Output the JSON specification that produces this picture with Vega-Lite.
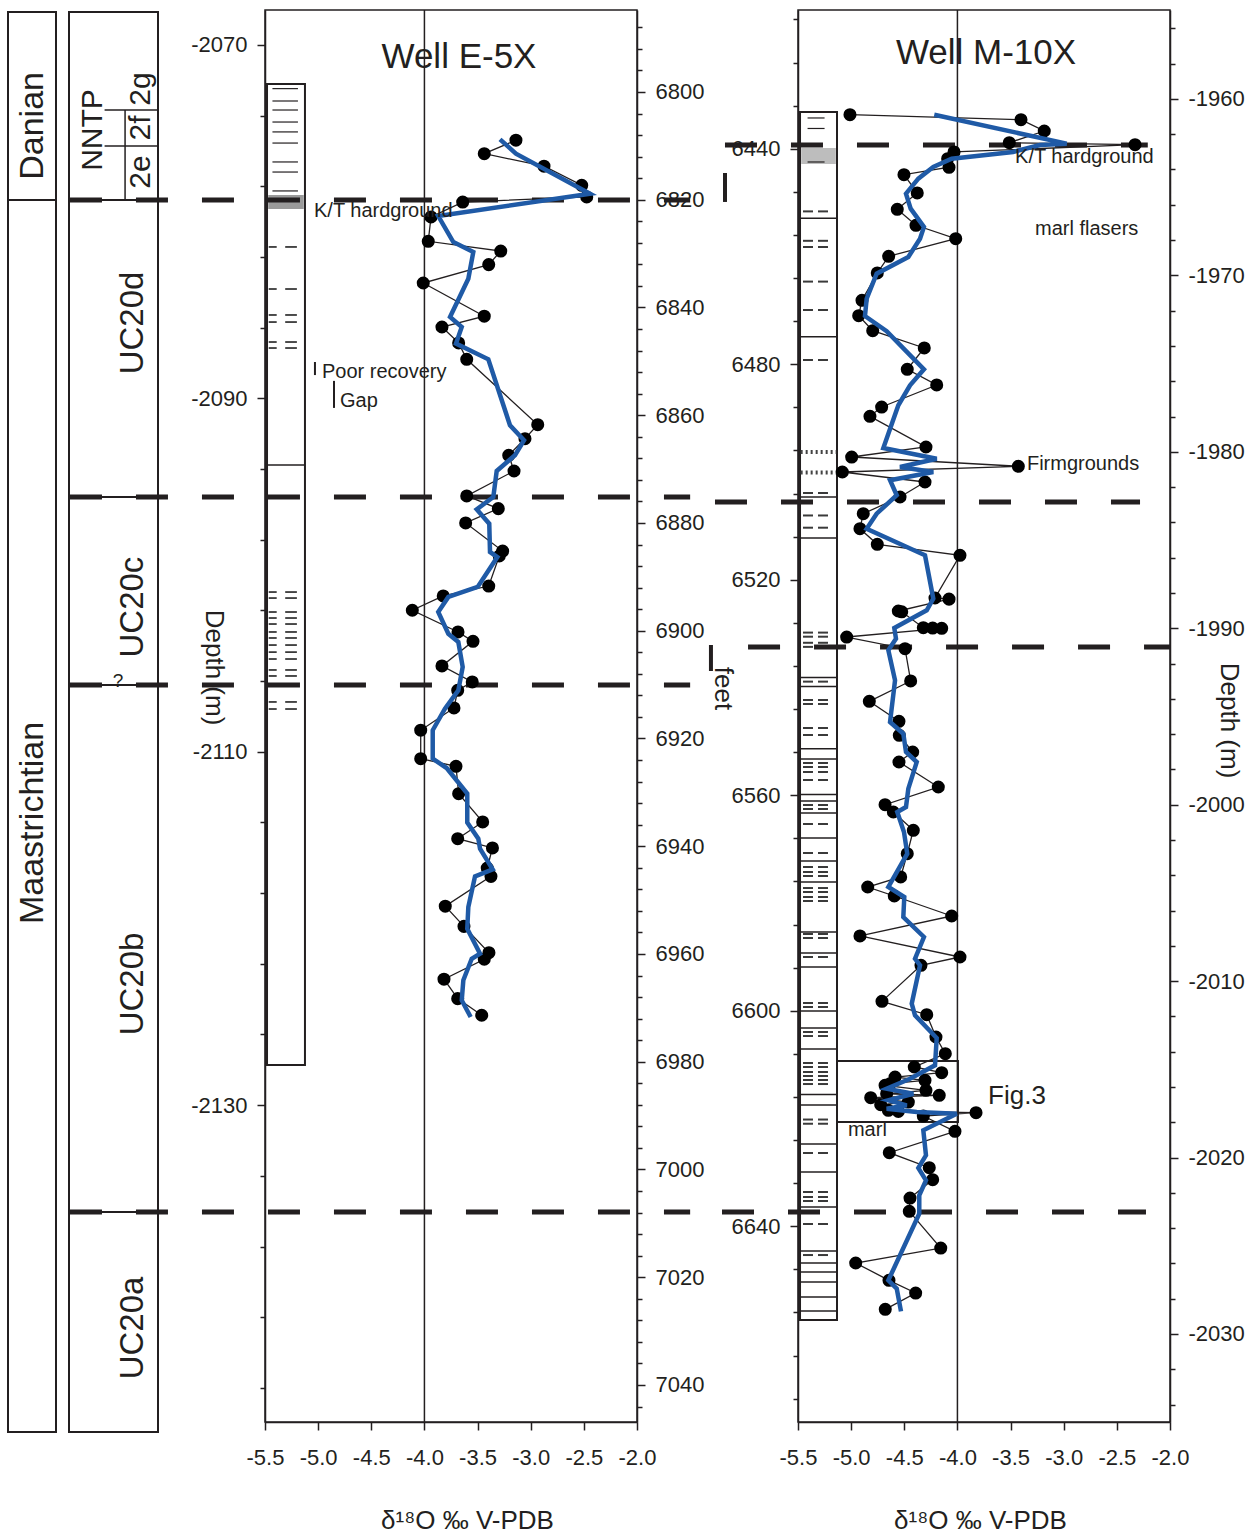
{
  "$schema": "https://vega.github.io/schema/vega-lite/v6.json",
  "background": "white",
  "padding": {"left": 7, "top": 7, "right": 0, "bottom": 0},
  "spacing": 0,
  "bounds": "flush",
  "config": {
    "view": {"stroke": null},
    "axis": {
      "labelFont": "Liberation Sans", "labelFontSize": 22, "labelColor": "#231f20",
      "titleFont": "Liberation Sans", "titleFontSize": 26, "titleFontWeight": "normal", "titleColor": "#231f20",
      "tickColor": "#231f20", "domainColor": "#231f20", "tickWidth": 1.5, "domainWidth": 1.5,
      "grid": false, "labelFlush": false, "labelOverlap": false, "labelBound": false, "labelPadding": 10
    }
  },
  "datasets": {
    "stages": [
      {"stage": "Danian", "top": -2068.13, "base": -2078.77, "label_depth": -2074.58},
      {"stage": "Maastrichtian", "top": -2078.77, "base": -2148.5, "label_depth": -2114.03}
    ],
    "zones": [
      {"zone": "NNTP", "top": -2068.13, "base": -2078.77, "label_depth": -2074.81},
      {"zone": "UC20d", "top": -2078.77, "base": -2095.58, "label_depth": -2085.73},
      {"zone": "UC20c", "top": -2095.58, "base": -2106.22, "label_depth": -2101.81},
      {"zone": "UC20b", "top": -2106.22, "base": -2136.04, "label_depth": -2123.14},
      {"zone": "UC20a", "top": -2136.04, "base": -2148.5, "label_depth": -2142.61}
    ],
    "subzones": [
      {"zone": "2g", "top": -2068.13, "base": -2073.68, "label_depth": -2072.49},
      {"zone": "2f", "top": -2073.68, "base": -2075.72, "label_depth": -2074.7},
      {"zone": "2e", "top": -2075.72, "base": -2078.77, "label_depth": -2077.19}
    ],
    "uncertain": [{"depth": -2106.0, "note": "?"}],
    "wells": [
      {"well": "Well E-5X", "d18O": -3.675, "depth": -2071.3},
      {"well": "Well M-10X", "d18O": -3.731, "depth_ft": 6424.27}
    ],
    "e5x_horizons": [
      {"horizon": "K/T boundary", "depth": -2078.77},
      {"horizon": "UC20d/UC20c", "depth": -2095.58},
      {"horizon": "UC20c/UC20b", "depth": -2106.22},
      {"horizon": "UC20b/UC20a", "depth": -2136.04}
    ],
    "e5x_column": [{"top": -2072.21, "base": -2127.72}],
    "e5x_hardground": [{"top": -2078.49, "base": -2079.28}],
    "e5x_beds": [{"depth": -2093.77}],
    "e5x_laminae": [
      {"depth": -2072.47}, {"depth": -2073.17}, {"depth": -2073.68}, {"depth": -2074.36}, {"depth": -2074.92},
      {"depth": -2075.55}, {"depth": -2076.62}, {"depth": -2077.19}, {"depth": -2078.26}
    ],
    "e5x_marl": [
      {"depth": -2081.43}, {"depth": -2083.81}, {"depth": -2085.28}, {"depth": -2085.68}, {"depth": -2086.81},
      {"depth": -2087.15}, {"depth": -2100.96}, {"depth": -2101.3}, {"depth": -2102.09}, {"depth": -2102.43},
      {"depth": -2102.77}, {"depth": -2103.22}, {"depth": -2103.56}, {"depth": -2103.96}, {"depth": -2104.36},
      {"depth": -2104.75}, {"depth": -2105.37}, {"depth": -2105.71}, {"depth": -2107.18}, {"depth": -2107.58}
    ],
    "e5x_d18O": [
      {"depth": -2075.39, "d18O": -3.139}, {"depth": -2076.15, "d18O": -3.437}, {"depth": -2076.86, "d18O": -2.875},
      {"depth": -2077.94, "d18O": -2.52}, {"depth": -2078.6, "d18O": -2.473}, {"depth": -2078.89, "d18O": -3.64},
      {"depth": -2079.73, "d18O": -3.938}, {"depth": -2081.11, "d18O": -3.964}, {"depth": -2081.66, "d18O": -3.282},
      {"depth": -2082.43, "d18O": -3.395}, {"depth": -2083.47, "d18O": -4.011}, {"depth": -2085.35, "d18O": -3.437},
      {"depth": -2085.96, "d18O": -3.835}, {"depth": -2086.86, "d18O": -3.678}, {"depth": -2087.79, "d18O": -3.602},
      {"depth": -2091.49, "d18O": -2.934}, {"depth": -2092.28, "d18O": -3.054}, {"depth": -2093.22, "d18O": -3.207},
      {"depth": -2094.11, "d18O": -3.157}, {"depth": -2095.52, "d18O": -3.602}, {"depth": -2096.24, "d18O": -3.305},
      {"depth": -2097.05, "d18O": -3.612}, {"depth": -2098.64, "d18O": -3.264}, {"depth": -2098.92, "d18O": -3.296},
      {"depth": -2100.62, "d18O": -3.395}, {"depth": -2101.18, "d18O": -3.823}, {"depth": -2101.99, "d18O": -4.114},
      {"depth": -2103.22, "d18O": -3.684}, {"depth": -2103.75, "d18O": -3.543}, {"depth": -2105.14, "d18O": -3.835},
      {"depth": -2106.05, "d18O": -3.55}, {"depth": -2106.52, "d18O": -3.687}, {"depth": -2107.52, "d18O": -3.722},
      {"depth": -2108.78, "d18O": -4.035}, {"depth": -2110.39, "d18O": -4.035}, {"depth": -2110.82, "d18O": -3.703},
      {"depth": -2112.37, "d18O": -3.678}, {"depth": -2113.97, "d18O": -3.452}, {"depth": -2114.92, "d18O": -3.687},
      {"depth": -2115.44, "d18O": -3.36}, {"depth": -2116.58, "d18O": -3.409}, {"depth": -2117.05, "d18O": -3.374},
      {"depth": -2118.74, "d18O": -3.804}, {"depth": -2119.88, "d18O": -3.628}, {"depth": -2121.37, "d18O": -3.393},
      {"depth": -2121.74, "d18O": -3.437}, {"depth": -2122.87, "d18O": -3.816}, {"depth": -2123.97, "d18O": -3.687},
      {"depth": -2124.91, "d18O": -3.461}
    ],
    "e5x_running_mean": [
      {"depth": -2075.34, "d18O": -3.289}, {"depth": -2076.15, "d18O": -3.139}, {"depth": -2078.42, "d18O": -2.442},
      {"depth": -2079.68, "d18O": -3.87}, {"depth": -2081.15, "d18O": -3.728}, {"depth": -2081.71, "d18O": -3.54},
      {"depth": -2083.23, "d18O": -3.587}, {"depth": -2085.39, "d18O": -3.759}, {"depth": -2085.96, "d18O": -3.649},
      {"depth": -2086.9, "d18O": -3.703}, {"depth": -2087.79, "d18O": -3.399}, {"depth": -2091.52, "d18O": -3.195},
      {"depth": -2092.37, "d18O": -3.063}, {"depth": -2093.22, "d18O": -3.148}, {"depth": -2094.11, "d18O": -3.32},
      {"depth": -2095.58, "d18O": -3.352}, {"depth": -2096.28, "d18O": -3.508}, {"depth": -2097.09, "d18O": -3.39},
      {"depth": -2098.69, "d18O": -3.383}, {"depth": -2098.98, "d18O": -3.314}, {"depth": -2100.67, "d18O": -3.499},
      {"depth": -2101.24, "d18O": -3.775}, {"depth": -2102.09, "d18O": -3.87}, {"depth": -2103.32, "d18O": -3.775},
      {"depth": -2103.79, "d18O": -3.681}, {"depth": -2105.2, "d18O": -3.64}, {"depth": -2106.52, "d18O": -3.681},
      {"depth": -2107.56, "d18O": -3.807}, {"depth": -2108.78, "d18O": -3.922}, {"depth": -2110.39, "d18O": -3.922},
      {"depth": -2110.92, "d18O": -3.791}, {"depth": -2112.37, "d18O": -3.597}, {"depth": -2114.01, "d18O": -3.597},
      {"depth": -2114.92, "d18O": -3.493}, {"depth": -2115.48, "d18O": -3.477}, {"depth": -2116.65, "d18O": -3.358},
      {"depth": -2117.05, "d18O": -3.524}, {"depth": -2118.78, "d18O": -3.587}, {"depth": -2120.01, "d18O": -3.597},
      {"depth": -2121.43, "d18O": -3.477}, {"depth": -2121.71, "d18O": -3.555}, {"depth": -2122.93, "d18O": -3.634},
      {"depth": -2124.06, "d18O": -3.649}, {"depth": -2125.01, "d18O": -3.565}
    ],
    "m10x_horizons": [
      {"horizon": "K/T boundary", "depth_ft": 6439.3},
      {"horizon": "UC20d/UC20c", "depth_ft": 6505.57},
      {"horizon": "UC20c/UC20b", "depth_ft": 6532.48},
      {"horizon": "UC20b/UC20a", "depth_ft": 6637.35}
    ],
    "m10x_column": [{"top": 6433.18, "base": 6657.4}],
    "m10x_hardground": [{"top": 6439.86, "base": 6442.83}],
    "m10x_laminae": [{"depth_ft": 6434.29}, {"depth_ft": 6436.24}, {"depth_ft": 6442.46}],
    "m10x_firmgrounds": [{"depth_ft": 6496.29}, {"depth_ft": 6500.11}],
    "m10x_beds": [
      {"depth_ft": 6452.91}, {"depth_ft": 6474.89}, {"depth_ft": 6504.64}, {"depth_ft": 6512.25}, {"depth_ft": 6538.14},
      {"depth_ft": 6539.81}, {"depth_ft": 6551.36}, {"depth_ft": 6553.27}, {"depth_ft": 6559.86}, {"depth_ft": 6561.07},
      {"depth_ft": 6563.29}, {"depth_ft": 6567.94}, {"depth_ft": 6572.2}, {"depth_ft": 6576.1}, {"depth_ft": 6585.38},
      {"depth_ft": 6589.28}, {"depth_ft": 6591.88}, {"depth_ft": 6600.05}, {"depth_ft": 6603.2}, {"depth_ft": 6607.1},
      {"depth_ft": 6615.55}, {"depth_ft": 6617.49}, {"depth_ft": 6624.73}, {"depth_ft": 6629.93}, {"depth_ft": 6636.43},
      {"depth_ft": 6644.59}, {"depth_ft": 6646.82}, {"depth_ft": 6648.49}, {"depth_ft": 6650.35}, {"depth_ft": 6653.13},
      {"depth_ft": 6655.73}
    ],
    "m10x_marl": [
      {"depth_ft": 6451.63}, {"depth_ft": 6457.09}, {"depth_ft": 6458.24}, {"depth_ft": 6464.66}, {"depth_ft": 6469.93},
      {"depth_ft": 6479.21}, {"depth_ft": 6503.9}, {"depth_ft": 6508.07}, {"depth_ft": 6510.34}, {"depth_ft": 6529.81},
      {"depth_ft": 6530.57}, {"depth_ft": 6531.7}, {"depth_ft": 6532.46}, {"depth_ft": 6538.91}, {"depth_ft": 6542.32},
      {"depth_ft": 6543.06}, {"depth_ft": 6547.52}, {"depth_ft": 6548.82}, {"depth_ft": 6554.01}, {"depth_ft": 6554.76},
      {"depth_ft": 6555.68}, {"depth_ft": 6557.17}, {"depth_ft": 6561.81}, {"depth_ft": 6562.55}, {"depth_ft": 6565.34},
      {"depth_ft": 6570.72}, {"depth_ft": 6573.32}, {"depth_ft": 6574.25}, {"depth_ft": 6574.99}, {"depth_ft": 6577.22},
      {"depth_ft": 6577.96}, {"depth_ft": 6578.89}, {"depth_ft": 6579.63}, {"depth_ft": 6585.75}, {"depth_ft": 6586.5},
      {"depth_ft": 6590.02}, {"depth_ft": 6598.56}, {"depth_ft": 6599.3}, {"depth_ft": 6603.94}, {"depth_ft": 6604.69},
      {"depth_ft": 6609.7}, {"depth_ft": 6610.44}, {"depth_ft": 6611.37}, {"depth_ft": 6612.11}, {"depth_ft": 6612.85},
      {"depth_ft": 6613.6}, {"depth_ft": 6620.19}, {"depth_ft": 6620.97}, {"depth_ft": 6626.4}, {"depth_ft": 6633.64},
      {"depth_ft": 6634.57}, {"depth_ft": 6635.31}, {"depth_ft": 6639.58}, {"depth_ft": 6645.34}
    ],
    "m10x_d18O": [
      {"depth_ft": 6433.68, "d18O": -5.011}, {"depth_ft": 6434.61, "d18O": -3.402}, {"depth_ft": 6436.71, "d18O": -3.183},
      {"depth_ft": 6438.88, "d18O": -3.512}, {"depth_ft": 6439.25, "d18O": -2.329}, {"depth_ft": 6440.6, "d18O": -4.032},
      {"depth_ft": 6441.85, "d18O": -4.092}, {"depth_ft": 6443.44, "d18O": -4.079}, {"depth_ft": 6444.82, "d18O": -4.503},
      {"depth_ft": 6448.21, "d18O": -4.378}, {"depth_ft": 6451.24, "d18O": -4.566}, {"depth_ft": 6454.21, "d18O": -4.39},
      {"depth_ft": 6456.7, "d18O": -4.016}, {"depth_ft": 6459.96, "d18O": -4.647}, {"depth_ft": 6463.06, "d18O": -4.754},
      {"depth_ft": 6468.13, "d18O": -4.898}, {"depth_ft": 6470.99, "d18O": -4.929}, {"depth_ft": 6473.77, "d18O": -4.797},
      {"depth_ft": 6476.98, "d18O": -4.312}, {"depth_ft": 6480.94, "d18O": -4.472}, {"depth_ft": 6483.85, "d18O": -4.195},
      {"depth_ft": 6487.94, "d18O": -4.713}, {"depth_ft": 6489.66, "d18O": -4.823}, {"depth_ft": 6495.36, "d18O": -4.296},
      {"depth_ft": 6497.22, "d18O": -4.995}, {"depth_ft": 6498.94, "d18O": -3.427}, {"depth_ft": 6500.0, "d18O": -5.083},
      {"depth_ft": 6501.86, "d18O": -4.305}, {"depth_ft": 6504.64, "d18O": -4.54}, {"depth_ft": 6507.74, "d18O": -4.886},
      {"depth_ft": 6510.53, "d18O": -4.917}, {"depth_ft": 6513.42, "d18O": -4.754}, {"depth_ft": 6515.46, "d18O": -3.976},
      {"depth_ft": 6523.39, "d18O": -4.211}, {"depth_ft": 6523.6, "d18O": -4.079}, {"depth_ft": 6525.8, "d18O": -4.556},
      {"depth_ft": 6525.95, "d18O": -4.524}, {"depth_ft": 6528.9, "d18O": -4.321}, {"depth_ft": 6528.96, "d18O": -4.233},
      {"depth_ft": 6529.02, "d18O": -4.148}, {"depth_ft": 6530.63, "d18O": -5.042}, {"depth_ft": 6532.8, "d18O": -4.493},
      {"depth_ft": 6538.79, "d18O": -4.44}, {"depth_ft": 6542.56, "d18O": -4.829}, {"depth_ft": 6546.27, "d18O": -4.55},
      {"depth_ft": 6548.87, "d18O": -4.547}, {"depth_ft": 6551.97, "d18O": -4.421}, {"depth_ft": 6553.83, "d18O": -4.55},
      {"depth_ft": 6558.47, "d18O": -4.18}, {"depth_ft": 6561.75, "d18O": -4.681}, {"depth_ft": 6563.11, "d18O": -4.603},
      {"depth_ft": 6566.5, "d18O": -4.415}, {"depth_ft": 6570.85, "d18O": -4.472}, {"depth_ft": 6575.17, "d18O": -4.534},
      {"depth_ft": 6577.03, "d18O": -4.844}, {"depth_ft": 6578.7, "d18O": -4.594}, {"depth_ft": 6582.41, "d18O": -4.054},
      {"depth_ft": 6586.12, "d18O": -4.917}, {"depth_ft": 6590.02, "d18O": -3.976}, {"depth_ft": 6591.56, "d18O": -4.343},
      {"depth_ft": 6598.25, "d18O": -4.71}, {"depth_ft": 6600.73, "d18O": -4.289}, {"depth_ft": 6604.87, "d18O": -4.202},
      {"depth_ft": 6607.97, "d18O": -4.114}, {"depth_ft": 6610.44, "d18O": -4.406}, {"depth_ft": 6611.5, "d18O": -4.148},
      {"depth_ft": 6612.3, "d18O": -4.587}, {"depth_ft": 6612.91, "d18O": -4.305}, {"depth_ft": 6613.54, "d18O": -4.634},
      {"depth_ft": 6613.84, "d18O": -4.681}, {"depth_ft": 6614.77, "d18O": -4.296}, {"depth_ft": 6615.4, "d18O": -4.666},
      {"depth_ft": 6615.69, "d18O": -4.171}, {"depth_ft": 6616.14, "d18O": -4.816}, {"depth_ft": 6616.94, "d18O": -4.462},
      {"depth_ft": 6617.44, "d18O": -4.722}, {"depth_ft": 6618.48, "d18O": -4.65}, {"depth_ft": 6618.7, "d18O": -4.556},
      {"depth_ft": 6618.92, "d18O": -3.825}, {"depth_ft": 6619.54, "d18O": -4.321}, {"depth_ft": 6622.38, "d18O": -4.023},
      {"depth_ft": 6626.35, "d18O": -4.641}, {"depth_ft": 6629.13, "d18O": -4.265}, {"depth_ft": 6631.36, "d18O": -4.233},
      {"depth_ft": 6634.76, "d18O": -4.446}, {"depth_ft": 6637.23, "d18O": -4.453}, {"depth_ft": 6644.04, "d18O": -4.157},
      {"depth_ft": 6646.82, "d18O": -4.957}, {"depth_ft": 6650.03, "d18O": -4.644}, {"depth_ft": 6652.39, "d18O": -4.393},
      {"depth_ft": 6655.42, "d18O": -4.679}
    ],
    "m10x_running_mean": [
      {"depth_ft": 6433.68, "d18O": -4.218}, {"depth_ft": 6439.06, "d18O": -2.972}, {"depth_ft": 6439.3, "d18O": -3.223},
      {"depth_ft": 6440.6, "d18O": -3.477}, {"depth_ft": 6441.85, "d18O": -4.054}, {"depth_ft": 6443.39, "d18O": -4.227},
      {"depth_ft": 6445.56, "d18O": -4.368}, {"depth_ft": 6448.34, "d18O": -4.484}, {"depth_ft": 6451.13, "d18O": -4.44},
      {"depth_ft": 6454.52, "d18O": -4.315}, {"depth_ft": 6456.7, "d18O": -4.352}, {"depth_ft": 6460.09, "d18O": -4.462},
      {"depth_ft": 6463.19, "d18O": -4.76}, {"depth_ft": 6467.83, "d18O": -4.854}, {"depth_ft": 6471.04, "d18O": -4.87},
      {"depth_ft": 6473.88, "d18O": -4.666}, {"depth_ft": 6480.94, "d18O": -4.315}, {"depth_ft": 6483.91, "d18O": -4.446},
      {"depth_ft": 6487.62, "d18O": -4.556}, {"depth_ft": 6495.55, "d18O": -4.697}, {"depth_ft": 6497.53, "d18O": -4.195},
      {"depth_ft": 6499.07, "d18O": -4.54}, {"depth_ft": 6500.0, "d18O": -4.227}, {"depth_ft": 6501.54, "d18O": -4.634},
      {"depth_ft": 6504.32, "d18O": -4.571}, {"depth_ft": 6507.74, "d18O": -4.76}, {"depth_ft": 6510.53, "d18O": -4.854},
      {"depth_ft": 6515.46, "d18O": -4.305}, {"depth_ft": 6523.52, "d18O": -4.227}, {"depth_ft": 6525.67, "d18O": -4.289},
      {"depth_ft": 6528.96, "d18O": -4.594}, {"depth_ft": 6530.94, "d18O": -4.578}, {"depth_ft": 6533.09, "d18O": -4.65},
      {"depth_ft": 6538.66, "d18O": -4.587}, {"depth_ft": 6546.4, "d18O": -4.634}, {"depth_ft": 6548.58, "d18O": -4.509},
      {"depth_ft": 6551.97, "d18O": -4.484}, {"depth_ft": 6553.83, "d18O": -4.383}, {"depth_ft": 6558.78, "d18O": -4.462},
      {"depth_ft": 6562.18, "d18O": -4.484}, {"depth_ft": 6563.11, "d18O": -4.566}, {"depth_ft": 6566.82, "d18O": -4.503},
      {"depth_ft": 6570.85, "d18O": -4.472}, {"depth_ft": 6577.03, "d18O": -4.65}, {"depth_ft": 6578.89, "d18O": -4.5},
      {"depth_ft": 6582.6, "d18O": -4.509}, {"depth_ft": 6586.31, "d18O": -4.315}, {"depth_ft": 6590.34, "d18O": -4.399},
      {"depth_ft": 6591.56, "d18O": -4.352}, {"depth_ft": 6598.69, "d18O": -4.43}, {"depth_ft": 6600.84, "d18O": -4.399},
      {"depth_ft": 6605.06, "d18O": -4.195}, {"depth_ft": 6610.13, "d18O": -4.211}, {"depth_ft": 6612.61, "d18O": -4.446},
      {"depth_ft": 6614.47, "d18O": -4.666}, {"depth_ft": 6615.4, "d18O": -4.415}, {"depth_ft": 6616.62, "d18O": -4.65},
      {"depth_ft": 6617.55, "d18O": -4.477}, {"depth_ft": 6618.18, "d18O": -4.666}, {"depth_ft": 6618.79, "d18O": -4.383},
      {"depth_ft": 6619.11, "d18O": -4.007}, {"depth_ft": 6622.19, "d18O": -4.321}, {"depth_ft": 6626.83, "d18O": -4.296},
      {"depth_ft": 6629.19, "d18O": -4.368}, {"depth_ft": 6631.47, "d18O": -4.296}, {"depth_ft": 6634.25, "d18O": -4.359},
      {"depth_ft": 6637.67, "d18O": -4.359}, {"depth_ft": 6650.03, "d18O": -4.65}, {"depth_ft": 6651.59, "d18O": -4.571},
      {"depth_ft": 6655.79, "d18O": -4.531}
    ]
  },
  "resolve": {"scale": {"x": "independent", "y": "independent"}},
  "hconcat": [
    {
      "width": 48, "height": 1412,
      "data": {"name": "stages"},
      "layer": [
        {
          "mark": {"type": "rect", "fill": "white", "stroke": "#231f20", "strokeWidth": 2, "clip": false},
          "encoding": {
            "x": {"datum": 0, "type": "quantitative", "scale": {"domain": [0, 1], "nice": false, "zero": false}, "axis": null},
            "x2": {"datum": 1},
            "y": {"field": "top", "type": "quantitative", "scale": {"domain": [-2147.93, -2068.02], "nice": false, "zero": false}, "axis": null},
            "y2": {"field": "base"}
          }
        },
        {
          "mark": {"type": "text", "angle": 270, "fontSize": 34, "font": "Liberation Sans", "color": "#231f20", "align": "center", "baseline": "middle"},
          "encoding": {
            "x": {"datum": 0.52, "type": "quantitative"},
            "y": {"field": "label_depth", "type": "quantitative"},
            "text": {"field": "stage"}
          }
        }
      ]
    },
    {"width": 13, "height": 1412, "data": {"values": []}, "mark": "point", "encoding": {}},
    {
      "width": 89, "height": 1412,
      "layer": [
        {
          "data": {"name": "zones"},
          "mark": {"type": "rect", "fill": "white", "stroke": "#231f20", "strokeWidth": 2, "clip": false},
          "encoding": {
            "x": {"datum": 0, "type": "quantitative", "scale": {"domain": [0, 1], "nice": false, "zero": false}, "axis": null},
            "x2": {"datum": 1},
            "y": {"field": "top", "type": "quantitative", "scale": {"domain": [-2147.93, -2068.02], "nice": false, "zero": false}, "axis": null},
            "y2": {"field": "base"}
          }
        },
        {
          "data": {"name": "zones"},
          "transform": [{"filter": "datum.zone !== 'NNTP'"}],
          "mark": {"type": "text", "angle": 270, "fontSize": 33, "font": "Liberation Sans", "color": "#231f20", "align": "center", "baseline": "middle"},
          "encoding": {
            "x": {"datum": 0.72, "type": "quantitative"},
            "y": {"field": "label_depth", "type": "quantitative"},
            "text": {"field": "zone"}
          }
        },
        {
          "data": {"name": "zones"},
          "transform": [{"filter": "datum.zone === 'NNTP'"}],
          "mark": {"type": "text", "angle": 270, "fontSize": 30, "font": "Liberation Sans", "color": "#231f20", "align": "center", "baseline": "middle"},
          "encoding": {
            "x": {"datum": 0.27, "type": "quantitative"},
            "y": {"field": "label_depth", "type": "quantitative"},
            "text": {"field": "zone"}
          }
        },
        {
          "data": {"name": "subzones"},
          "transform": [{"filter": "datum.zone !== '2e'"}],
          "mark": {"type": "rule", "color": "#231f20", "strokeWidth": 1.5},
          "encoding": {
            "x": {"datum": 0.4, "type": "quantitative"},
            "x2": {"datum": 1},
            "y": {"field": "base", "type": "quantitative"}
          }
        },
        {
          "data": {"name": "subzones"},
          "transform": [{"filter": "datum.zone !== '2g'"}],
          "mark": {"type": "rule", "color": "#231f20", "strokeWidth": 1.5},
          "encoding": {
            "x": {"datum": 0.63, "type": "quantitative"},
            "y": {"field": "top", "type": "quantitative"},
            "y2": {"field": "base"}
          }
        },
        {
          "data": {"name": "subzones"},
          "mark": {"type": "text", "angle": 270, "fontSize": 30, "font": "Liberation Sans", "color": "#231f20", "align": "center", "baseline": "middle"},
          "encoding": {
            "x": {"datum": 0.81, "type": "quantitative"},
            "y": {"field": "label_depth", "type": "quantitative"},
            "text": {"field": "zone"}
          }
        },
        {
          "data": {"name": "uncertain"},
          "mark": {"type": "text", "fontSize": 19, "font": "Liberation Sans", "color": "#231f20", "align": "center", "baseline": "middle"},
          "encoding": {
            "x": {"datum": 0.55, "type": "quantitative"},
            "y": {"field": "depth", "type": "quantitative"},
            "text": {"field": "note"}
          }
        }
      ]
    },
    {"width": 107, "height": 1412, "data": {"values": []}, "mark": "point", "encoding": {}},
    {
      "width": 372, "height": 1412,
      "view": {"stroke": "#231f20", "strokeWidth": 1.5},
      "layer": [
        {
          "layer": [
            {
              "data": {"name": "e5x_column"},
              "mark": {"type": "rect", "fill": "white", "stroke": "#231f20", "strokeWidth": 2},
              "encoding": {
                "x": {"datum": -5.481, "type": "quantitative"},
                "x2": {"datum": -5.124},
                "y": {"field": "top", "type": "quantitative"},
                "y2": {"field": "base"}
              }
            },
            {
              "data": {"name": "e5x_hardground"},
              "mark": {"type": "rect", "fill": "#9a9a9a"},
              "encoding": {
                "x": {"datum": -5.47, "type": "quantitative"},
                "x2": {"datum": -5.135},
                "y": {"field": "top", "type": "quantitative"},
                "y2": {"field": "base"}
              }
            },
            {
              "data": {"name": "e5x_laminae"},
              "mark": {"type": "rule", "color": "#231f20", "strokeWidth": 1.2},
              "encoding": {
                "x": {"datum": -5.43, "type": "quantitative"},
                "x2": {"datum": -5.19},
                "y": {"field": "depth", "type": "quantitative"}
              }
            },
            {
              "data": {"name": "e5x_marl"},
              "mark": {"type": "rule", "color": "#3a3a3a", "strokeWidth": 1.8},
              "encoding": {
                "x": {"datum": -5.465, "type": "quantitative"},
                "x2": {"datum": -5.39},
                "y": {"field": "depth", "type": "quantitative"}
              }
            },
            {
              "data": {"name": "e5x_marl"},
              "mark": {"type": "rule", "color": "#3a3a3a", "strokeWidth": 1.8},
              "encoding": {
                "x": {"datum": -5.31, "type": "quantitative"},
                "x2": {"datum": -5.2},
                "y": {"field": "depth", "type": "quantitative"}
              }
            },
            {
              "data": {"name": "e5x_beds"},
              "mark": {"type": "rule", "color": "#231f20", "strokeWidth": 1.5},
              "encoding": {
                "x": {"datum": -5.481, "type": "quantitative"},
                "x2": {"datum": -5.124},
                "y": {"field": "depth", "type": "quantitative"}
              }
            },
            {
              "data": {"name": "e5x_column"},
              "mark": {"type": "rule", "color": "#231f20", "strokeWidth": 1.5},
              "encoding": {"x": {"datum": -4.0, "type": "quantitative"}}
            },
            {
              "data": {"name": "e5x_horizons"},
              "mark": {"type": "rule", "color": "#231f20", "strokeWidth": 5, "strokeDash": [32, 34], "clip": false},
              "encoding": {
                "x": {"datum": -7.335, "type": "quantitative"},
                "x2": {"datum": -1.5},
                "y": {"field": "depth", "type": "quantitative"}
              }
            },
            {
              "data": {"name": "e5x_d18O"},
              "mark": {"type": "line", "color": "#231f20", "strokeWidth": 1.3},
              "encoding": {
                "x": {"field": "d18O", "type": "quantitative"},
                "y": {"field": "depth", "type": "quantitative"},
                "order": {"field": "depth", "sort": "descending"}
              }
            },
            {
              "data": {"name": "e5x_d18O"},
              "mark": {"type": "circle", "size": 170, "color": "#000000", "opacity": 1},
              "encoding": {
                "x": {
                  "field": "d18O", "type": "quantitative",
                  "scale": {"domain": [-5.5, -2.0], "nice": false, "zero": false},
                  "axis": {
                    "values": [-5.5, -5, -4.5, -4, -3.5, -3, -2.5, -2],
                    "labelExpr": "replace(format(datum.value, '.1f'), '\u2212', '-')",
                    "tickSize": 8, "labelPadding": 17,
                    "title": "δ¹⁸O ‰ V-PDB", "titleX": 202, "titleY": 106, "titleAlign": "center", "titleBaseline": "alphabetic"
                  }
                },
                "y": {
                  "field": "depth", "type": "quantitative",
                  "scale": {"domain": [-2147.93, -2068.02], "nice": false, "zero": false},
                  "axis": {
                    "values": [-2070, -2072, -2074, -2076, -2078, -2080, -2082, -2084, -2086, -2088, -2090, -2092, -2094, -2096, -2098, -2100, -2102, -2104, -2106, -2108, -2110, -2112, -2114, -2116, -2118, -2120, -2122, -2124, -2126, -2128, -2130, -2132, -2134, -2136, -2138, -2140, -2142, -2144, -2146],
                    "labelExpr": "datum.value % 10 === 0 ? toString(datum.value) : ''",
                    "tickSize": {"condition": {"test": "datum.value % 10 !== 0", "value": 5}, "value": 8},
                    "title": "Depth (m)", "titleAngle": 90, "titleX": -52, "titleY": 657, "titleAlign": "center", "titleBaseline": "middle"
                  }
                }
              }
            },
            {
              "data": {"name": "e5x_running_mean"},
              "mark": {"type": "line", "color": "#1f5aa6", "strokeWidth": 4.5},
              "encoding": {
                "x": {"field": "d18O", "type": "quantitative"},
                "y": {"field": "depth", "type": "quantitative"},
                "order": {"field": "depth", "sort": "descending"}
              }
            },
            {
              "data": {"name": "wells"},
              "transform": [{"filter": "datum.well === 'Well E-5X'"}],
              "mark": {"type": "text", "align": "center", "baseline": "alphabetic", "fontSize": 35, "font": "Liberation Sans", "color": "#231f20"},
              "encoding": {
                "x": {"field": "d18O", "type": "quantitative"},
                "y": {"field": "depth", "type": "quantitative"},
                "text": {"field": "well"}
              }
            },
            {
              "data": {"name": "e5x_column"},
              "mark": {"type": "text", "text": "K/T hardground", "align": "left", "baseline": "middle", "fontSize": 20, "font": "Liberation Sans", "color": "#231f20"},
              "encoding": {"x": {"datum": -5.039, "type": "quantitative"}, "y": {"datum": -2079.39, "type": "quantitative"}}
            },
            {
              "data": {"name": "e5x_column"},
              "mark": {"type": "text", "text": "Poor recovery", "align": "left", "baseline": "middle", "fontSize": 20, "font": "Liberation Sans", "color": "#231f20"},
              "encoding": {"x": {"datum": -4.964, "type": "quantitative"}, "y": {"datum": -2088.51, "type": "quantitative"}}
            },
            {
              "data": {"name": "e5x_column"},
              "mark": {"type": "text", "text": "Gap", "align": "left", "baseline": "middle", "fontSize": 20, "font": "Liberation Sans", "color": "#231f20"},
              "encoding": {"x": {"datum": -4.794, "type": "quantitative"}, "y": {"datum": -2090.15, "type": "quantitative"}}
            },
            {
              "data": {"name": "e5x_column"},
              "mark": {"type": "rule", "color": "#231f20", "strokeWidth": 2},
              "encoding": {"x": {"datum": -5.03, "type": "quantitative"}, "y": {"datum": -2087.94, "type": "quantitative"}, "y2": {"datum": -2088.68}}
            },
            {
              "data": {"name": "e5x_column"},
              "mark": {"type": "rule", "color": "#231f20", "strokeWidth": 2},
              "encoding": {"x": {"datum": -4.851, "type": "quantitative"}, "y": {"datum": -2089.01, "type": "quantitative"}, "y2": {"datum": -2090.54}}
            }
          ]
        },
        {
          "data": {"name": "e5x_column"},
          "mark": {"type": "rule", "opacity": 0},
          "encoding": {
            "y": {
              "datum": 6900, "type": "quantitative",
              "scale": {"domain": [6784.78, 7046.87], "reverse": true, "nice": false, "zero": false},
              "axis": {
                "orient": "right",
                "values": [6788, 6792, 6796, 6800, 6804, 6808, 6812, 6816, 6820, 6824, 6828, 6832, 6836, 6840, 6844, 6848, 6852, 6856, 6860, 6864, 6868, 6872, 6876, 6880, 6884, 6888, 6892, 6896, 6900, 6904, 6908, 6912, 6916, 6920, 6924, 6928, 6932, 6936, 6940, 6944, 6948, 6952, 6956, 6960, 6964, 6968, 6972, 6976, 6980, 6984, 6988, 6992, 6996, 7000, 7004, 7008, 7012, 7016, 7020, 7024, 7028, 7032, 7036, 7040, 7044],
                "labelExpr": "datum.value % 20 === 0 ? toString(datum.value) : ''",
                "tickSize": {"condition": {"test": "datum.value % 20 !== 0", "value": 5}, "value": 8},
                "title": "feet", "titleAngle": 90, "titleX": 85, "titleY": 678, "titleAlign": "center", "titleBaseline": "middle"
              }
            }
          }
        }
      ],
      "resolve": {"scale": {"y": "independent"}, "axis": {"y": "independent"}}
    },
    {"width": 161, "height": 1412, "data": {"values": []}, "mark": "point", "encoding": {}},
    {
      "width": 372, "height": 1412,
      "view": {"stroke": "#231f20", "strokeWidth": 1.5},
      "layer": [
        {
          "layer": [
            {
              "data": {"name": "m10x_column"},
              "mark": {"type": "rect", "fill": "white", "stroke": "#231f20", "strokeWidth": 2},
              "encoding": {
                "x": {"datum": -5.481, "type": "quantitative"},
                "x2": {"datum": -5.133},
                "y": {"field": "top", "type": "quantitative"},
                "y2": {"field": "base"}
              }
            },
            {
              "data": {"name": "m10x_hardground"},
              "mark": {"type": "rect", "fill": "#bdbdbd"},
              "encoding": {
                "x": {"datum": -5.47, "type": "quantitative"},
                "x2": {"datum": -5.144},
                "y": {"field": "top", "type": "quantitative"},
                "y2": {"field": "base"}
              }
            },
            {
              "data": {"name": "m10x_laminae"},
              "mark": {"type": "rule", "color": "#231f20", "strokeWidth": 1.2},
              "encoding": {
                "x": {"datum": -5.41, "type": "quantitative"},
                "x2": {"datum": -5.25},
                "y": {"field": "depth_ft", "type": "quantitative"}
              }
            },
            {
              "data": {"name": "m10x_firmgrounds"},
              "mark": {"type": "rule", "color": "#444444", "strokeWidth": 4, "strokeDash": [2, 3]},
              "encoding": {
                "x": {"datum": -5.475, "type": "quantitative"},
                "x2": {"datum": -5.14},
                "y": {"field": "depth_ft", "type": "quantitative"}
              }
            },
            {
              "data": {"name": "m10x_marl"},
              "mark": {"type": "rule", "color": "#3a3a3a", "strokeWidth": 2},
              "encoding": {
                "x": {"datum": -5.453, "type": "quantitative"},
                "x2": {"datum": -5.359},
                "y": {"field": "depth_ft", "type": "quantitative"}
              }
            },
            {
              "data": {"name": "m10x_marl"},
              "mark": {"type": "rule", "color": "#3a3a3a", "strokeWidth": 2},
              "encoding": {
                "x": {"datum": -5.312, "type": "quantitative"},
                "x2": {"datum": -5.218},
                "y": {"field": "depth_ft", "type": "quantitative"}
              }
            },
            {
              "data": {"name": "m10x_beds"},
              "mark": {"type": "rule", "color": "#231f20", "strokeWidth": 1.5},
              "encoding": {
                "x": {"datum": -5.481, "type": "quantitative"},
                "x2": {"datum": -5.133},
                "y": {"field": "depth_ft", "type": "quantitative"}
              }
            },
            {
              "data": {"name": "m10x_column"},
              "mark": {"type": "rule", "color": "#231f20", "strokeWidth": 1.5},
              "encoding": {"x": {"datum": -4.0, "type": "quantitative"}}
            },
            {
              "data": {"name": "m10x_column"},
              "mark": {"type": "rect", "fill": null, "stroke": "#231f20", "strokeWidth": 2},
              "encoding": {
                "x": {"datum": -5.133, "type": "quantitative"},
                "x2": {"datum": -3.995},
                "y": {"datum": 6609.33, "type": "quantitative"},
                "y2": {"datum": 6620.65}
              }
            },
            {
              "data": {"name": "m10x_horizons"},
              "transform": [{"filter": "datum.horizon === 'K/T boundary'"}],
              "mark": {"type": "rule", "color": "#231f20", "strokeWidth": 5, "strokeDash": [32, 34], "clip": false},
              "encoding": {
                "x": {"datum": -6.187, "type": "quantitative"},
                "x2": {"datum": -2.209},
                "y": {"field": "depth_ft", "type": "quantitative"}
              }
            },
            {
              "data": {"name": "m10x_horizons"},
              "transform": [{"filter": "datum.horizon === 'UC20d/UC20c'"}],
              "mark": {"type": "rule", "color": "#231f20", "strokeWidth": 5, "strokeDash": [32, 34], "clip": false},
              "encoding": {
                "x": {"datum": -6.281, "type": "quantitative"},
                "x2": {"datum": -2.282},
                "y": {"field": "depth_ft", "type": "quantitative"}
              }
            },
            {
              "data": {"name": "m10x_horizons"},
              "transform": [{"filter": "datum.horizon === 'UC20c/UC20b'"}],
              "mark": {"type": "rule", "color": "#231f20", "strokeWidth": 5, "strokeDash": [32, 34], "clip": false},
              "encoding": {
                "x": {"datum": -5.97, "type": "quantitative"},
                "x2": {"datum": -2.0},
                "y": {"field": "depth_ft", "type": "quantitative"}
              }
            },
            {
              "data": {"name": "m10x_horizons"},
              "transform": [{"filter": "datum.horizon === 'UC20b/UC20a'"}],
              "mark": {"type": "rule", "color": "#231f20", "strokeWidth": 5, "strokeDash": [32, 34], "clip": false},
              "encoding": {
                "x": {"datum": -6.215, "type": "quantitative"},
                "x2": {"datum": -2.226},
                "y": {"field": "depth_ft", "type": "quantitative"}
              }
            },
            {
              "data": {"name": "m10x_d18O"},
              "mark": {"type": "line", "color": "#231f20", "strokeWidth": 1.3},
              "encoding": {
                "x": {"field": "d18O", "type": "quantitative"},
                "y": {"field": "depth_ft", "type": "quantitative"},
                "order": {"field": "depth_ft"}
              }
            },
            {
              "data": {"name": "m10x_d18O"},
              "mark": {"type": "circle", "size": 170, "color": "#000000", "opacity": 1},
              "encoding": {
                "x": {
                  "field": "d18O", "type": "quantitative",
                  "scale": {"domain": [-5.5, -2.0], "nice": false, "zero": false},
                  "axis": {
                    "values": [-5.5, -5, -4.5, -4, -3.5, -3, -2.5, -2],
                    "labelExpr": "replace(format(datum.value, '.1f'), '\u2212', '-')",
                    "tickSize": 8, "labelPadding": 17,
                    "title": "δ¹⁸O ‰ V-PDB", "titleX": 182, "titleY": 106, "titleAlign": "center", "titleBaseline": "alphabetic"
                  }
                },
                "y": {
                  "field": "depth_ft", "type": "quantitative",
                  "scale": {"domain": [6414.25, 6676.33], "reverse": true, "nice": false, "zero": false},
                  "axis": {
                    "values": [6416, 6420, 6424, 6428, 6432, 6436, 6440, 6444, 6448, 6452, 6456, 6460, 6464, 6468, 6472, 6476, 6480, 6484, 6488, 6492, 6496, 6500, 6504, 6508, 6512, 6516, 6520, 6524, 6528, 6532, 6536, 6540, 6544, 6548, 6552, 6556, 6560, 6564, 6568, 6572, 6576, 6580, 6584, 6588, 6592, 6596, 6600, 6604, 6608, 6612, 6616, 6620, 6624, 6628, 6632, 6636, 6640, 6644, 6648, 6652, 6656, 6660, 6664, 6668, 6672, 6676],
                    "labelExpr": "datum.value % 20 === 0 ? toString(datum.value) : ''",
                    "tickSize": {"condition": {"test": "datum.value % 20 !== 0", "value": 5}, "value": 8},
                    "title": null
                  }
                }
              }
            },
            {
              "data": {"name": "m10x_running_mean"},
              "mark": {"type": "line", "color": "#1f5aa6", "strokeWidth": 4.5},
              "encoding": {
                "x": {"field": "d18O", "type": "quantitative"},
                "y": {"field": "depth_ft", "type": "quantitative"},
                "order": {"field": "depth_ft"}
              }
            },
            {
              "data": {"name": "wells"},
              "transform": [{"filter": "datum.well === 'Well M-10X'"}],
              "mark": {"type": "text", "align": "center", "baseline": "alphabetic", "fontSize": 35, "font": "Liberation Sans", "color": "#231f20"},
              "encoding": {
                "x": {"field": "d18O", "type": "quantitative"},
                "y": {"field": "depth_ft", "type": "quantitative"},
                "text": {"field": "well"}
              }
            },
            {
              "data": {"name": "m10x_column"},
              "mark": {"type": "text", "text": "K/T hardground", "align": "left", "baseline": "middle", "fontSize": 20, "font": "Liberation Sans", "color": "#231f20"},
              "encoding": {"x": {"datum": -3.458, "type": "quantitative"}, "y": {"datum": 6441.53, "type": "quantitative"}}
            },
            {
              "data": {"name": "m10x_column"},
              "mark": {"type": "text", "text": "marl flasers", "align": "left", "baseline": "middle", "fontSize": 20, "font": "Liberation Sans", "color": "#231f20"},
              "encoding": {"x": {"datum": -3.27, "type": "quantitative"}, "y": {"datum": 6454.9, "type": "quantitative"}}
            },
            {
              "data": {"name": "m10x_column"},
              "mark": {"type": "text", "text": "Firmgrounds", "align": "left", "baseline": "middle", "fontSize": 20, "font": "Liberation Sans", "color": "#231f20"},
              "encoding": {"x": {"datum": -3.346, "type": "quantitative"}, "y": {"datum": 6498.51, "type": "quantitative"}}
            },
            {
              "data": {"name": "m10x_column"},
              "mark": {"type": "text", "text": "Fig.3", "align": "left", "baseline": "middle", "fontSize": 26, "font": "Liberation Sans", "color": "#231f20"},
              "encoding": {"x": {"datum": -3.712, "type": "quantitative"}, "y": {"datum": 6615.82, "type": "quantitative"}}
            },
            {
              "data": {"name": "m10x_column"},
              "mark": {"type": "text", "text": "marl", "align": "left", "baseline": "middle", "fontSize": 20, "font": "Liberation Sans", "color": "#231f20"},
              "encoding": {"x": {"datum": -5.03, "type": "quantitative"}, "y": {"datum": 6622.14, "type": "quantitative"}}
            },
            {
              "data": {"name": "m10x_column"},
              "mark": {"type": "rule", "color": "#231f20", "strokeWidth": 4, "clip": false},
              "encoding": {"x": {"datum": -6.187, "type": "quantitative"}, "y": {"datum": 6444.5, "type": "quantitative"}, "y2": {"datum": 6449.88}}
            },
            {
              "data": {"name": "m10x_column"},
              "mark": {"type": "rule", "color": "#231f20", "strokeWidth": 4, "clip": false},
              "encoding": {"x": {"datum": -6.319, "type": "quantitative"}, "y": {"datum": 6532.11, "type": "quantitative"}, "y2": {"datum": 6536.94}}
            }
          ]
        },
        {
          "data": {"name": "m10x_column"},
          "mark": {"type": "rule", "opacity": 0},
          "encoding": {
            "y": {
              "datum": -2000, "type": "quantitative",
              "scale": {"domain": [-2034.99, -1954.96], "nice": false, "zero": false},
              "axis": {
                "orient": "right",
                "values": [-1956, -1958, -1960, -1962, -1964, -1966, -1968, -1970, -1972, -1974, -1976, -1978, -1980, -1982, -1984, -1986, -1988, -1990, -1992, -1994, -1996, -1998, -2000, -2002, -2004, -2006, -2008, -2010, -2012, -2014, -2016, -2018, -2020, -2022, -2024, -2026, -2028, -2030, -2032, -2034],
                "labelExpr": "datum.value % 10 === 0 ? toString(datum.value) : ''",
                "tickSize": {"condition": {"test": "datum.value % 10 !== 0", "value": 5}, "value": 8},
                "title": "Depth (m)", "titleAngle": 90, "titleX": 58, "titleY": 710, "titleAlign": "center", "titleBaseline": "middle"
              }
            }
          }
        }
      ],
      "resolve": {"scale": {"y": "independent"}, "axis": {"y": "independent"}}
    }
  ]
}
